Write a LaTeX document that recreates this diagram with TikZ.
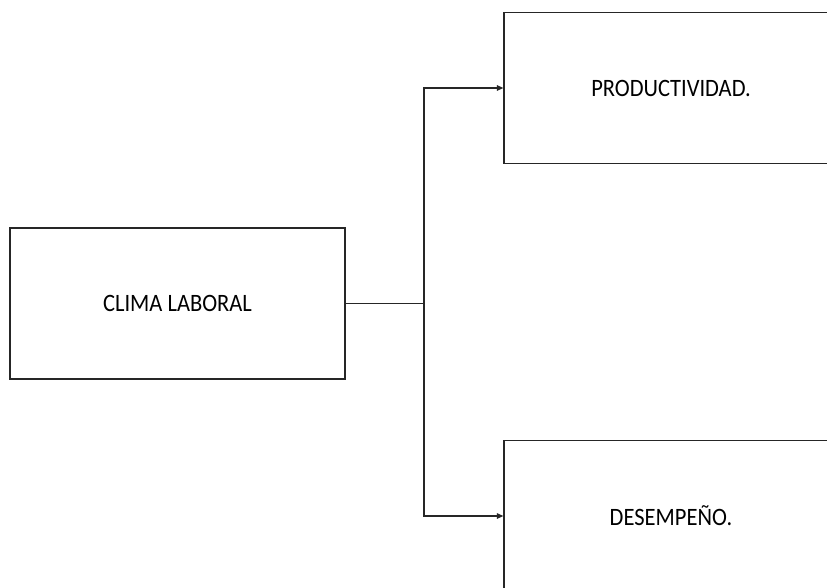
\documentclass[tikz,border=0pt]{standalone}
\usepackage{fontspec}
\setmainfont{Carlito}
\usetikzlibrary{arrows.meta}
\begin{document}
\begin{tikzpicture}[x=1pt,y=1pt,
  box/.style={draw=black!85,line width=1.2pt,minimum width=335pt,minimum height=151pt,inner sep=0pt,
    font=\fontsize{25}{28}\selectfont},
  conn/.style={draw=black!85,line width=1.1pt},
  tip/.style={-{Triangle[length=6.5pt,width=5.5pt]}}]
\clip (0,0) rectangle (827,-587);
\fill[white] (0,0) rectangle (827,-587);
\node[box] (clima) at (177.5,-303.5) {\scalebox{0.9}[1]{CLIMA LABORAL}};
\node[box,minimum width=334pt] (prod) at (671,-88) {\scalebox{0.9}[1]{PRODUCTIVIDAD.}};
\node[box,minimum width=334pt] (des) at (671,-516) {\scalebox{0.9}[1]{DESEMPEÑO.}};
\coordinate (j) at (424,-303.5);
\draw[conn] (clima.east) -- (j);
\draw[conn,tip] (j) |- (prod.west);
\draw[conn,tip] (j) |- (des.west);
\end{tikzpicture}
\end{document}
